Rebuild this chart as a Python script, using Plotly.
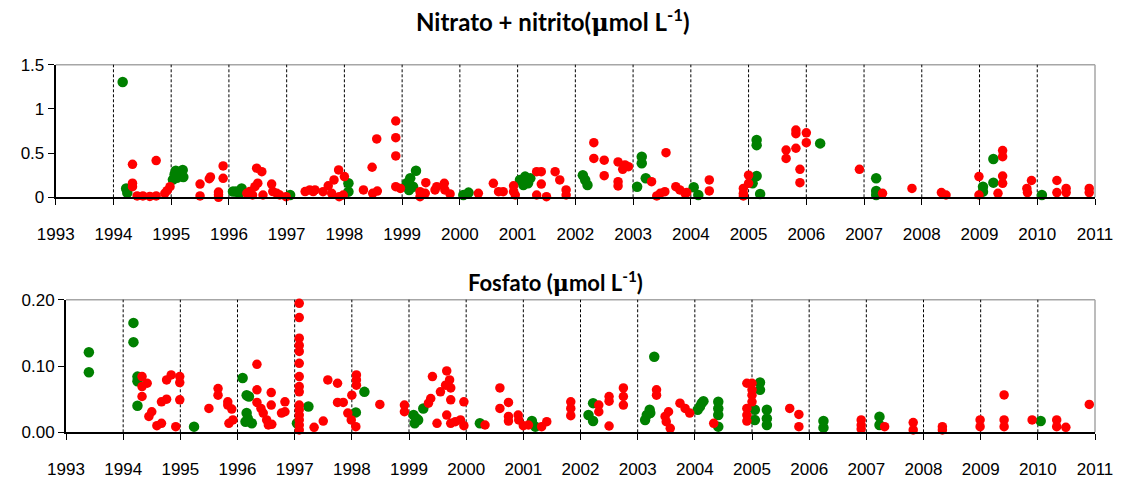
import plotly.graph_objects as go

# ---------------- data ----------------
years = list(range(1993, 2012))

# Nitrato + nitrito (umol L-1)
no3_green_t = [1994.16, 1994.22, 1994.24,
               1995.03, 1995.06, 1995.08, 1995.10, 1995.14, 1995.20, 1995.21,
               1996.07, 1996.12, 1996.22, 1996.18, 1997.06, 1998.07, 1998.07,
               1999.08, 1999.14, 1999.24, 1999.19, 1999.12, 2000.06, 2000.15,
               2001.04, 2001.13, 2001.18, 2001.22, 2001.10,
               2002.13, 2002.17, 2002.21, 2003.07, 2003.15, 2003.15, 2003.22,
               2004.05, 2004.13, 2005.14, 2005.14, 2005.14, 2005.07, 2005.20,
               2006.24, 2007.21, 2007.21, 2007.21, 2009.06, 2009.06, 2009.24, 2009.24,
               2010.08]
no3_green_v = [1.305, 0.10, 0.05,
               0.20, 0.26, 0.30, 0.22, 0.28, 0.31, 0.23,
               0.065, 0.065, 0.10, 0.045, 0.026, 0.158, 0.064,
               0.158, 0.215, 0.30, 0.12, 0.083, 0.026, 0.053,
               0.196, 0.234, 0.158, 0.215, 0.14,
               0.25, 0.196, 0.14, 0.12, 0.46, 0.385, 0.215,
               0.113, 0.026, 0.648, 0.59, 0.24, 0.158, 0.038,
               0.61, 0.215, 0.072, 0.026, 0.12, 0.064, 0.434, 0.166,
               0.026]

no3_red_t = [1994.33, 1994.33, 1994.33, 1994.41, 1994.51, 1994.63, 1994.74, 1994.74,
             1994.89, 1994.93, 1994.98, 1995.50, 1995.50, 1995.66, 1995.68,
             1995.82, 1995.82, 1995.82, 1995.90, 1995.90,
             1996.31, 1996.36, 1996.41, 1996.45, 1996.48, 1996.50, 1996.57, 1996.59,
             1996.74, 1996.76, 1996.83, 1996.88, 1996.99,
             1997.32, 1997.40, 1997.49, 1997.46,
             1997.63, 1997.72, 1997.78, 1997.82, 1997.90, 1997.91, 1997.98, 1998.00,
             1998.33, 1998.48, 1998.49, 1998.56, 1998.57,
             1998.89, 1998.89, 1998.89, 1998.89, 1998.97,
             1999.31, 1999.31, 1999.40, 1999.41, 1999.57, 1999.60, 1999.73, 1999.74, 1999.83,
             2000.32, 2000.58, 2000.67, 2000.75, 2000.93, 2000.93, 2000.96,
             2001.33, 2001.41, 2001.41, 2001.33, 2001.50, 2001.65, 2001.73, 2001.84, 2001.84,
             2002.32, 2002.32, 2002.50, 2002.50, 2002.74, 2002.74, 2002.74, 2002.82, 2002.86, 2002.92,
             2003.32, 2003.41, 2003.47, 2003.55, 2003.57, 2003.74, 2003.81, 2003.90, 2003.93,
             2004.32, 2004.32, 2004.91, 2004.91, 2004.91, 2005.00, 2005.00,
             2005.65, 2005.65, 2005.82, 2005.82, 2005.82, 2006.00, 2006.00, 2005.89, 2005.89,
             2006.92, 2007.32, 2007.83, 2008.34, 2008.42, 2008.99, 2008.99,
             2009.40, 2009.40, 2009.40, 2009.40, 2009.32, 2009.82, 2009.83, 2009.90,
             2010.34, 2010.34, 2010.50, 2010.50, 2010.90, 2010.90]
no3_red_v = [0.373, 0.16, 0.12, 0.015, 0.015, 0.01, 0.015, 0.415,
             0.045, 0.075, 0.12, 0.15, 0.015, 0.21, 0.23,
             0.06, 0.03, 0.0, 0.355, 0.215,
             0.045, 0.065, 0.026, 0.12, 0.33, 0.16, 0.29, 0.026,
             0.15, 0.065, 0.045, 0.026, 0.0075,
             0.065, 0.083, 0.083, 0.065,
             0.064, 0.13, 0.045, 0.196, 0.31, 0.0075, 0.026, 0.234,
             0.083, 0.34, 0.045, 0.66, 0.07,
             0.863, 0.675, 0.468, 0.12, 0.10,
             0.064, 0.0075, 0.045, 0.166, 0.083, 0.12, 0.158, 0.083, 0.038,
             0.045, 0.158, 0.064, 0.064, 0.13, 0.064, 0.026,
             0.29, 0.29, 0.15, 0.026, 0.0075, 0.29, 0.196, 0.083, 0.026,
             0.618, 0.44, 0.42, 0.245, 0.40, 0.177, 0.128, 0.317, 0.366, 0.347,
             0.177, 0.015, 0.045, 0.064, 0.505, 0.12, 0.083, 0.045, 0.053,
             0.196, 0.072, 0.10, 0.045, 0.015, 0.25, 0.158,
             0.535, 0.44, 0.76, 0.72, 0.555, 0.73, 0.618, 0.317, 0.166,
             0.317, 0.045, 0.10, 0.053, 0.026, 0.234, 0.026,
             0.528, 0.46, 0.24, 0.158, 0.045, 0.10, 0.053, 0.19,
             0.19, 0.053, 0.10, 0.053, 0.10, 0.053]

# Fosfato (umol L-1)
po4_green_t = [1993.40, 1993.40, 1994.18, 1994.18, 1994.25, 1994.25, 1994.25,
               1995.24, 1996.09, 1996.16, 1996.20, 1996.16, 1996.18, 1996.25, 1996.14,
               1997.04, 1997.24, 1998.07, 1998.22,
               1999.08, 1999.10, 1999.16, 1999.25, 1999.13, 2000.24, 2001.15, 2001.21,
               2002.14, 2002.22, 2002.22,
               2003.13, 2003.16, 2003.21, 2003.22, 2003.29,
               2004.05, 2004.12, 2004.15, 2004.09, 2004.41, 2004.41, 2004.41, 2004.41,
               2005.14, 2005.14, 2005.05, 2005.05, 2005.26, 2005.26, 2005.26,
               2006.25, 2006.25, 2007.23, 2007.23, 2010.05]
po4_green_v = [0.1207, 0.0905, 0.165, 0.136, 0.084, 0.077, 0.040,
               0.0085, 0.082, 0.056, 0.054, 0.029, 0.021, 0.0136, 0.016,
               0.0136, 0.039, 0.030, 0.061,
               0.026, 0.0136, 0.0186, 0.036, 0.021, 0.0136, 0.017, 0.0085,
               0.026, 0.044, 0.017,
               0.0186, 0.026, 0.034, 0.029, 0.114,
               0.034, 0.044, 0.047, 0.039, 0.046, 0.036, 0.026, 0.0085,
               0.075, 0.064, 0.034, 0.0186, 0.034, 0.021, 0.011,
               0.017, 0.007, 0.0236, 0.011, 0.017]

po4_red_t = [1994.33, 1994.33, 1994.33, 1994.42, 1994.45, 1994.50, 1994.59, 1994.67, 1994.67,
             1994.76, 1994.76, 1994.84, 1994.92, 1994.99, 1994.99, 1994.99,
             1995.50, 1995.66, 1995.66, 1995.83, 1995.83, 1995.90, 1995.85, 1995.92,
             1996.34, 1996.34, 1996.34, 1996.41, 1996.45, 1996.51, 1996.54, 1996.59, 1996.59,
             1996.60, 1996.83, 1996.83, 1996.77,
             1997.08, 1997.08, 1997.08, 1997.08, 1997.08, 1997.08, 1997.08, 1997.08,
             1997.08, 1997.08, 1997.08, 1997.08, 1997.08, 1997.08, 1997.08,
             1997.34, 1997.50, 1997.58, 1997.75, 1997.75, 1997.85, 1997.93, 1998.00,
             1997.99, 1998.07, 1998.08, 1998.08, 1998.08, 1998.49, 1998.92, 1998.92,
             1999.34, 1999.38, 1999.41, 1999.49, 1999.55, 1999.64, 1999.66, 1999.66,
             1999.71, 1999.73, 1999.73, 1999.73, 1999.81, 1999.90, 1999.96, 1999.96,
             2000.33, 2000.59, 2000.59, 2000.74, 2000.74, 2000.74, 2000.91, 2000.92,
             2001.00, 2001.09, 2001.32, 2001.41, 2001.83, 2001.83, 2001.83,
             2002.32, 2002.32, 2002.50, 2002.50, 2002.50, 2002.75, 2002.75, 2002.75,
             2003.33, 2003.33, 2003.48, 2003.54, 2003.57, 2003.50, 2003.74, 2003.83, 2003.91,
             2004.33, 2004.91, 2004.91, 2004.91, 2004.91, 2005.00, 2005.00, 2005.00, 2005.00,
             2005.66, 2005.82, 2005.82, 2006.91, 2006.91, 2006.91, 2007.32,
             2007.82, 2007.82, 2008.33, 2008.33, 2008.99, 2008.99,
             2009.41, 2009.41, 2009.41, 2009.90, 2010.33, 2010.33, 2010.49, 2010.90]
po4_red_v = [0.084, 0.069, 0.054, 0.074, 0.024, 0.031, 0.010, 0.0136, 0.046,
             0.050, 0.079, 0.0865, 0.0085, 0.084, 0.075, 0.049,
             0.036, 0.066, 0.056, 0.046, 0.041, 0.035, 0.0136, 0.0186,
             0.1026, 0.064, 0.045, 0.036, 0.029, 0.0186, 0.011, 0.060, 0.041,
             0.012, 0.046, 0.031, 0.029,
             0.1946, 0.173, 0.142, 0.131, 0.122, 0.104, 0.084, 0.069,
             0.061, 0.041, 0.034, 0.026, 0.0186, 0.011, 0.0035,
             0.0075, 0.017, 0.079, 0.074, 0.045, 0.045, 0.029, 0.056,
             0.0186, 0.0085, 0.0865, 0.079, 0.071, 0.042, 0.041, 0.031,
             0.044, 0.051, 0.084, 0.0136, 0.061, 0.071, 0.0925, 0.026,
             0.079, 0.067, 0.049, 0.0136, 0.016, 0.0186, 0.046, 0.010,
             0.011, 0.067, 0.036, 0.045, 0.024, 0.017, 0.026, 0.0186,
             0.010, 0.011, 0.0085, 0.016, 0.046, 0.036, 0.025,
             0.041, 0.031, 0.054, 0.047, 0.0095, 0.067, 0.054, 0.041,
             0.064, 0.056, 0.024, 0.031, 0.006, 0.016, 0.044, 0.036, 0.029,
             0.0136, 0.074, 0.036, 0.026, 0.017, 0.074, 0.056, 0.046, 0.064,
             0.036, 0.027, 0.0085, 0.0186, 0.011, 0.005, 0.0085,
             0.0146, 0.0035, 0.0085, 0.0035, 0.0186, 0.0085,
             0.0563, 0.0186, 0.0085, 0.0186, 0.0186, 0.0085, 0.0075, 0.042]

title_no3 = "Nitrato + nitrito(<span style='font-family:DejaVu Serif'>μ</span>mol L<sup>-1</sup>)"
title_po4 = "Fosfato (<span style='font-family:DejaVu Serif'>μ</span>mol L<sup>-1</sup>)"

GREEN = "#008000"
RED = "#FF0000"
W, H = 1121, 478

# pixel geometry of the two panels (left, right, top, bottom)
top_box = (55.7, 1095, 64.7, 197.3)
bot_box = (66, 1095, 299.7, 432.3)


def xdom(b):
    return [b[0] / W, b[1] / W]


def ydom(b):
    return [1 - b[3] / H, 1 - b[2] / H]


fig = go.Figure()

panels = [
    ("x", "y", no3_green_t, no3_green_v, no3_red_t, no3_red_v),
    ("x2", "y2", po4_green_t, po4_green_v, po4_red_t, po4_red_v),
]
for xa, ya, gt, gv, rt, rv in panels:
    fig.add_trace(go.Scatter(x=gt, y=gv, xaxis=xa, yaxis=ya, mode="markers",
                             marker=dict(color=GREEN, size=10.5, line=dict(width=0)),
                             cliponaxis=False, showlegend=False, hoverinfo="x+y"))
    fig.add_trace(go.Scatter(x=rt, y=rv, xaxis=xa, yaxis=ya, mode="markers",
                             marker=dict(color=RED, size=9.5, line=dict(width=0)),
                             cliponaxis=False, showlegend=False, hoverinfo="x+y"))

tick_font = dict(family="Liberation Sans, Arial, sans-serif", size=17, color="#000000")

xcommon = dict(range=[1993, 2011], tickvals=years, ticktext=[str(y) for y in years],
               showgrid=False, zeroline=False, showline=True, linecolor="#000000",
               linewidth=2, ticks="outside", ticklen=6, tickwidth=1.3,
               tickcolor="#000000", tickfont=tick_font, ticklabelstandoff=14,
               automargin=False, fixedrange=True)
ycommon = dict(showgrid=False, zeroline=False, showline=True, linecolor="#000000",
               linewidth=2, ticks="outside", ticklen=6, tickwidth=1.3,
               tickcolor="#000000", tickfont=tick_font, automargin=False,
               fixedrange=True)

fig.update_layout(
    width=W, height=H,
    margin=dict(l=0, r=0, t=0, b=0, autoexpand=False),
    paper_bgcolor="#ffffff", plot_bgcolor="#ffffff",
    xaxis=dict(domain=xdom(top_box), anchor="y", **xcommon),
    yaxis=dict(domain=ydom(top_box), anchor="x", range=[0, 1.5],
               tickvals=[0, 0.5, 1, 1.5], ticktext=["0", "0.5", "1", "1.5"], **ycommon),
    xaxis2=dict(domain=xdom(bot_box), anchor="y2", **xcommon),
    yaxis2=dict(domain=ydom(bot_box), anchor="x2", range=[0, 0.2],
                tickvals=[0, 0.1, 0.2], tickformat=".2f", **ycommon),
)

shapes = []
for xa, ya in (("x", "y"), ("x2", "y2")):
    # light frame on top and right
    shapes.append(dict(type="line", xref=f"{xa} domain", yref=f"{ya} domain",
                       x0=0, x1=1, y0=1, y1=1, line=dict(color="#a6a6a6", width=1.5),
                       layer="below"))
    shapes.append(dict(type="line", xref=f"{xa} domain", yref=f"{ya} domain",
                       x0=1, x1=1, y0=0, y1=1, line=dict(color="#a6a6a6", width=1.5),
                       layer="below"))
    # dashed year separators
    for yr in years[1:-1]:
        shapes.append(dict(type="line", xref=xa, yref=f"{ya} domain",
                           x0=yr, x1=yr, y0=0, y1=1,
                           line=dict(color="#000000", width=1, dash="3px,2px"),
                           layer="below"))
fig.update_layout(shapes=shapes)

fig.add_annotation(text=f"<b>{title_no3}</b>", xref="paper", yref="paper",
                   x=553 / W, y=1 - 20 / H, xanchor="center", yanchor="middle",
                   showarrow=False,
                   font=dict(family="Lato, Open Sans, sans-serif", size=24, color="#000000"))
fig.add_annotation(text=f"<b>{title_po4}</b>", xref="paper", yref="paper",
                   x=555 / W, y=1 - 281 / H, xanchor="center", yanchor="middle",
                   showarrow=False,
                   font=dict(family="Lato, Open Sans, sans-serif", size=22, color="#000000"))

fig.write_html("out.html")
